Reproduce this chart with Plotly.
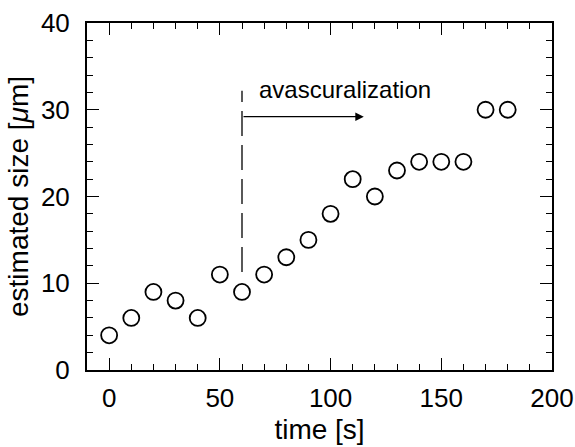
import plotly.graph_objects as go

time_s = [0, 10, 20, 30, 40, 50, 60, 70, 80, 90, 100, 110, 120, 130, 140, 150, 160, 170, 180]
size_um = [4, 6, 9, 8, 6, 11, 9, 11, 13, 15, 18, 22, 20, 23, 24, 24, 24, 30, 30]

marker_x = [60, 60]
marker_y = [11.3, 32.2]
arrow_start = (60, 29.2)
arrow_end = (115, 29.2)
label_text = "avascuralization"
label_pos = (106.5, 32.3)

FONT = "Liberation Sans, Arial, Helvetica, sans-serif"

fig = go.Figure()
fig.add_trace(go.Scatter(
    x=time_s, y=size_um, mode="markers",
    marker=dict(symbol="circle-open", size=16, color="black", line=dict(width=1.8, color="black")),
    showlegend=False, cliponaxis=False,
))
fig.add_trace(go.Scatter(
    x=marker_x, y=marker_y, mode="lines",
    line=dict(color="black", width=1.3, dash="25px,9px"),
    showlegend=False,
))
fig.add_annotation(
    x=arrow_end[0], y=arrow_end[1], ax=arrow_start[0], ay=arrow_start[1],
    xref="x", yref="y", axref="x", ayref="y",
    showarrow=True, arrowhead=2, arrowsize=1.3, arrowwidth=1.3, arrowcolor="black", text="",
)
fig.add_annotation(
    x=label_pos[0], y=label_pos[1], xref="x", yref="y", text=label_text,
    showarrow=False, font=dict(family=FONT, size=24, color="black"),
)

tick_common = dict(
    ticks="inside", ticklen=12, tickwidth=1, tickcolor="black",
    showgrid=False, zeroline=False, automargin=False,
    showline=True, linecolor="black", linewidth=2,
    tickfont=dict(family=FONT, size=26, color="black"),
)

fig.update_layout(
    xaxis=dict(range=[-10, 200], tick0=0, dtick=50,
               minor=dict(ticks="inside", ticklen=6, tickwidth=1, tickcolor="black", dtick=10, tick0=0, showgrid=False),
               title=dict(text="time [s]", standoff=7, font=dict(family=FONT, size=28, color="black")),
               ticklabelstandoff=4, **tick_common),
    yaxis=dict(range=[0, 40], tick0=0, dtick=10,
               minor=dict(ticks="inside", ticklen=6, tickwidth=1, tickcolor="black", dtick=2, tick0=0, showgrid=False),
               title=dict(text="estimated size [<i>μ</i>m]", standoff=4, font=dict(family=FONT, size=28, color="black")),
               ticklabelstandoff=10, **tick_common),
    xaxis2=dict(range=[-10, 200], tick0=0, dtick=50, overlaying="x", side="top", showticklabels=False,
                minor=dict(ticks="inside", ticklen=6, tickwidth=1, tickcolor="black", dtick=10, tick0=0, showgrid=False),
                **tick_common),
    yaxis2=dict(range=[0, 40], tick0=0, dtick=10, overlaying="y", side="right", showticklabels=False,
                minor=dict(ticks="inside", ticklen=6, tickwidth=1, tickcolor="black", dtick=2, tick0=0, showgrid=False),
                **tick_common),
    width=575, height=447,
    margin=dict(l=87, r=23, t=23, b=77, autoexpand=False),
    plot_bgcolor="white", paper_bgcolor="white",
    font=dict(family=FONT, color="black"),
)
# invisible trace to activate the mirrored axes
fig.add_trace(go.Scatter(x=[None], y=[None], xaxis="x2", yaxis="y2", showlegend=False, hoverinfo="skip"))

fig.write_html("out.html", config={"displayModeBar": False},
               post_script="document.body.style.margin='0';document.body.style.overflow='hidden';")
